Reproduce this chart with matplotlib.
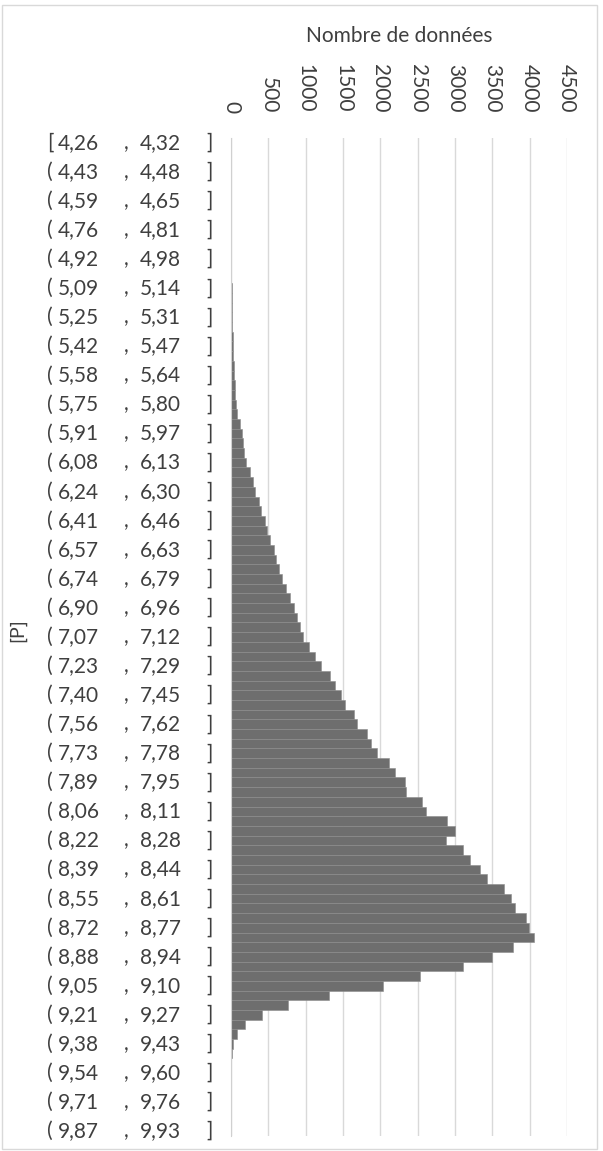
import matplotlib
matplotlib.use('Agg')
import matplotlib.pyplot as plt
import numpy as np
from matplotlib.patches import Rectangle

# number of values in each class (103 classes, width ~0.055)
counts = [0, 0, 0, 0, 0, 0, 0, 0, 0, 0, 0, 0, 0,
          2, 4, 7, 10, 13, 17, 20, 23, 27, 33, 38, 44, 50, 58, 68, 82,
          125, 150, 165, 180, 200, 260, 290, 325, 370, 405, 450, 478, 522,
          572, 600, 638, 682, 740, 790, 840, 885, 930, 968, 1040, 1130,
          1200, 1320, 1390, 1470, 1525, 1650, 1690, 1820, 1875, 1960, 2110,
          2190, 2330, 2350, 2560, 2615, 2895, 3005, 2885, 3102, 3205, 3336,
          3430, 3652, 3748, 3797, 3953, 3997, 4055, 3775, 3500, 3112, 2527,
          2032, 1306, 766, 410, 192, 82, 30, 8, 2,
          0, 0, 0, 0, 0, 0, 0]

# one label every 3 classes
bin_lo = ['4,26', '4,43', '4,59', '4,76', '4,92', '5,09', '5,25', '5,42', '5,58',
          '5,75', '5,91', '6,08', '6,24', '6,41', '6,57', '6,74', '6,90', '7,07',
          '7,23', '7,40', '7,56', '7,73', '7,89', '8,06', '8,22', '8,39', '8,55',
          '8,72', '8,88', '9,05', '9,21', '9,38', '9,54', '9,71', '9,87']
bin_hi = ['4,32', '4,48', '4,65', '4,81', '4,98', '5,14', '5,31', '5,47', '5,64',
          '5,80', '5,97', '6,13', '6,30', '6,46', '6,63', '6,79', '6,96', '7,12',
          '7,29', '7,45', '7,62', '7,78', '7,95', '8,11', '8,28', '8,44', '8,61',
          '8,77', '8,94', '9,10', '9,27', '9,43', '9,60', '9,76', '9,93']
label_step = 3
x_ticks = [0, 500, 1000, 1500, 2000, 2500, 3000, 3500, 4000, 4500]

W, H = 603, 1151
TXT = '#3f3f3f'

if __name__ == '__main__':
    plt.rcParams['font.family'] = ['Lato', 'DejaVu Sans']
    fig = plt.figure(figsize=(W / 100, H / 100), dpi=100)
    ax = fig.add_axes([231 / W, 1 - 1136 / H, 336 / W, 998 / H])

    y = np.arange(len(counts))
    ax.barh(y, counts, height=1.0, color='#6e6e6e', edgecolor='#8c8c8c',
            linewidth=0.4, zorder=2)
    ax.set_ylim(len(counts) - 0.5, -0.5)
    ax.set_xlim(0, 4500)

    ax.xaxis.tick_top()
    ax.xaxis.set_label_position('top')
    ax.set_xticks(x_ticks)
    ax.set_xticklabels([str(v) for v in x_ticks], rotation=-90, fontsize=15, color=TXT)
    ax.tick_params(axis='x', length=0, pad=18)
    ax.set_xlabel('Nombre de données', fontsize=15, color=TXT, labelpad=16)
    ax.grid(axis='x', color='#d9d9d9', linewidth=1)
    ax.set_axisbelow(True)
    ax.set_yticks([])
    for s in ['top', 'right', 'bottom']:
        ax.spines[s].set_visible(False)
    ax.spines['left'].set_color('#d0d0d0')

    # class labels, drawn in pieces so the columns line up like the original
    trans = ax.get_yaxis_transform()

    def xa(px):
        return (px - 231) / 336

    for k, (lo, hi) in enumerate(zip(bin_lo, bin_hi)):
        yb = k * label_step
        opener = '[' if k == 0 else '('
        for px, s in [(47, opener), (58, lo), (124, ','), (140, hi), (206, ']')]:
            ax.text(xa(px), yb, s, transform=trans, ha='left', va='center',
                    fontsize=15, color=TXT, clip_on=False)

    fig.text(18 / W, 1 - 630 / H, '[P]', rotation=90, ha='center', va='center',
             fontsize=14, color=TXT)

    # chart area border
    fig.add_artist(Rectangle((2 / W, 2 / H), 595 / W, 1144 / H, transform=fig.transFigure,
                             fill=False, edgecolor='#d9d9d9', linewidth=1))

    fig.savefig('out.png', dpi=100)
